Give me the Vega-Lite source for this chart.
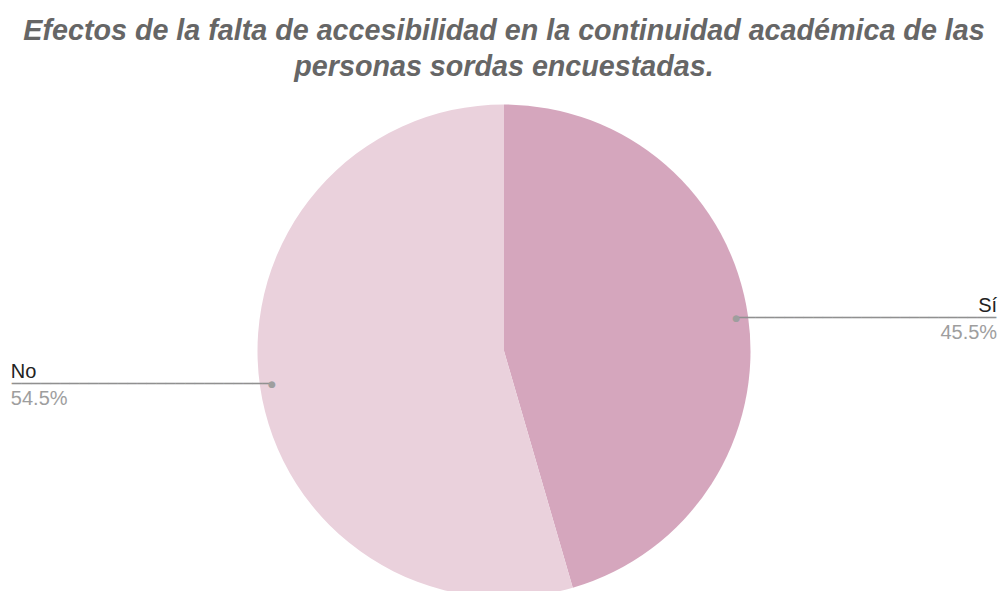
{
  "$schema": "https://vega.github.io/schema/vega-lite/v6.json",
  "autosize": {"type": "none"},
  "padding": {"top": 111, "left": 8, "right": 0, "bottom": 0},
  "width": 992,
  "height": 480,
  "background": "white",
  "title": {
    "text": ["Efectos de la falta de accesibilidad en la continuidad académica de las", "personas sordas encuestadas."],
    "font": "Liberation Sans",
    "fontSize": 28.7,
    "fontStyle": "italic",
    "fontWeight": "bold",
    "color": "#666666",
    "anchor": "middle",
    "lineHeight": 36,
    "offset": 23
  },
  "data": {
    "values": [
      {"label": "Sí", "value": 0.455},
      {"label": "No", "value": 0.545}
    ]
  },
  "encoding": {
    "theta": {"field": "value", "type": "quantitative", "stack": true},
    "order": {"field": "label", "sort": "descending"}
  },
  "layer": [
    {
      "mark": {"type": "arc", "outerRadius": 246.5, "stroke": null},
      "encoding": {
        "color": {"field": "label", "type": "nominal", "scale": {"domain": ["Sí", "No"], "range": ["#d5a6bd", "#ead1dc"]}, "legend": null}
      }
    },
    {
      "mark": {"type": "text", "radius": 234.5, "align": "left", "baseline": "middle", "font": "DejaVu Sans", "fontSize": 16, "color": "#909090"},
      "encoding": {
        "text": {"value": "───────────────────────────"},
        "opacity": {"condition": {"test": "datum.label == 'Sí'", "value": 1}, "value": 0}
      }
    },
    {
      "mark": {"type": "text", "radius": 234.5, "align": "right", "baseline": "middle", "font": "DejaVu Sans", "fontSize": 16, "color": "#909090"},
      "encoding": {
        "text": {"value": "───────────────────────────"},
        "opacity": {"condition": {"test": "datum.label == 'No'", "value": 1}, "value": 0}
      }
    },
    {
      "mark": {"type": "text", "radius": 234.5, "align": "center", "baseline": "middle", "font": "DejaVu Sans", "fontSize": 9, "color": "#9e9e9e"},
      "encoding": {
        "text": {"value": "●"}
      }
    },
    {
      "mark": {"type": "text", "radius": 234.5, "align": "right", "baseline": "alphabetic", "dx": 261, "dy": -6, "font": "Liberation Sans", "fontSize": 20, "color": "#222222"},
      "encoding": {
        "text": {"field": "label", "type": "nominal"},
        "opacity": {"condition": {"test": "datum.label == 'Sí'", "value": 1}, "value": 0}
      }
    },
    {
      "mark": {"type": "text", "radius": 234.5, "align": "right", "baseline": "alphabetic", "dx": 261, "dy": 21, "font": "Liberation Sans", "fontSize": 20, "color": "#9e9e9e"},
      "encoding": {
        "text": {"field": "value", "type": "quantitative", "format": ".1%"},
        "opacity": {"condition": {"test": "datum.label == 'Sí'", "value": 1}, "value": 0}
      }
    },
    {
      "mark": {"type": "text", "radius": 234.5, "align": "left", "baseline": "alphabetic", "dx": -261, "dy": -6, "font": "Liberation Sans", "fontSize": 20, "color": "#222222"},
      "encoding": {
        "text": {"field": "label", "type": "nominal"},
        "opacity": {"condition": {"test": "datum.label == 'No'", "value": 1}, "value": 0}
      }
    },
    {
      "mark": {"type": "text", "radius": 234.5, "align": "left", "baseline": "alphabetic", "dx": -261, "dy": 21, "font": "Liberation Sans", "fontSize": 20, "color": "#9e9e9e"},
      "encoding": {
        "text": {"field": "value", "type": "quantitative", "format": ".1%"},
        "opacity": {"condition": {"test": "datum.label == 'No'", "value": 1}, "value": 0}
      }
    }
  ],
  "config": {"view": {"stroke": null}}
}
